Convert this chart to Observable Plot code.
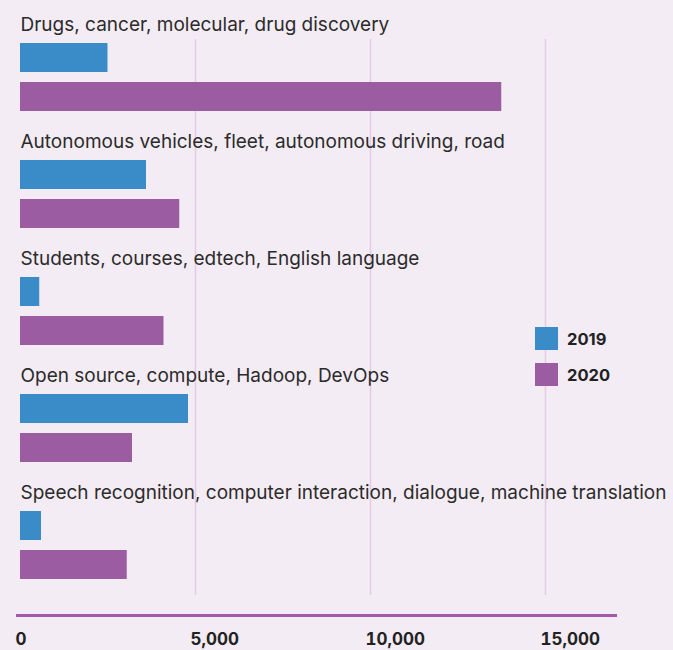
<!DOCTYPE html>
<html>
<head>
<meta charset="utf-8">
<script src="https://cdn.jsdelivr.net/npm/d3@7"></script>
<script src="https://cdn.jsdelivr.net/npm/@observablehq/plot@0.6"></script>
<style>
  html, body { margin: 0; padding: 0; background: #f4ecf4; }
  #wrap { position: relative; width: 673px; height: 650px; font-family: Inter, "Liberation Sans", Arial, sans-serif; }
  #legend { position: absolute; left: 535px; top: 327px; }
  .item { display: flex; align-items: center; height: 23px; margin-bottom: 13px; }
  .sw { width: 23px; height: 23px; margin-right: 9px; }
  .lab { font-weight: bold; font-size: 16.5px; color: #222; }
</style>
</head>
<body>
<div id="wrap"></div>
<script>
const categories = [
  "Drugs, cancer, molecular, drug discovery",
  "Autonomous vehicles, fleet, autonomous driving, road",
  "Students, courses, edtech, English language",
  "Open source, compute, Hadoop, DevOps",
  "Speech recognition, computer interaction, dialogue, machine translation"
];
const years = ["2019", "2020"];
const values2019 = [2500, 3600, 550, 4800, 600];
const values2020 = [13750, 4550, 4100, 3200, 3050];
const colors = ["#3a8cc8", "#9c5ca1"];
const xTicks = [0, 5000, 10000, 15000];

const rows = categories.flatMap((c, i) => [
  {key: c + "|2019", year: "2019", value: values2019[i]},
  {key: c + "|2020", year: "2020", value: values2020[i]}
]);
const labels = categories.map(c => ({key: c + "|label", text: c}));
const yDomain = categories.flatMap(c => [c + "|label", c + "|2019", c + "|2020"]);

const chart = Plot.plot({
  width: 673,
  height: 650,
  marginTop: 0,
  marginLeft: 20,
  marginRight: 58,
  marginBottom: 55,
  style: {background: "#f4ecf4", fontFamily: "Inter, 'Liberation Sans', Arial, sans-serif", overflow: "visible"},
  x: {domain: [0, 17000], axis: null},
  y: {type: "band", domain: yDomain, paddingInner: 0.2437, paddingOuter: 0, insetTop: -0.7, insetBottom: 10.3, axis: null},
  color: {domain: years, range: colors},
  marks: [
    Plot.ruleX(xTicks.slice(1), {stroke: "#e7c9e6", strokeWidth: 1.5, insetTop: 39}),
    Plot.barX(rows, {x: "value", y: "key", fill: "year"}),
    Plot.text(labels, {x: 0, y: "key", text: "text", textAnchor: "start", lineAnchor: "bottom", dy: 12, fontSize: 19, fill: "#2b2b2b"}),
    Plot.frame({anchor: "bottom", stroke: "#a25aa8", strokeWidth: 3, insetBottom: -20, insetLeft: -3}),
    Plot.axisX({ticks: xTicks, tickSize: 0, tickPadding: 37, textAnchor: "start", dx: -5, fontWeight: "bold", fontSize: 17, fill: "#222", tickFormat: d3.format(","), label: null})
  ]
});
const wrap = document.getElementById("wrap");
wrap.appendChild(chart);

const legend = document.createElement("div");
legend.id = "legend";
years.forEach((y, i) => {
  const item = document.createElement("div");
  item.className = "item";
  const sw = document.createElement("div");
  sw.className = "sw";
  sw.style.background = colors[i];
  const lab = document.createElement("span");
  lab.className = "lab";
  lab.textContent = y;
  item.appendChild(sw);
  item.appendChild(lab);
  legend.appendChild(item);
});
wrap.appendChild(legend);
</script>
</body>
</html>
